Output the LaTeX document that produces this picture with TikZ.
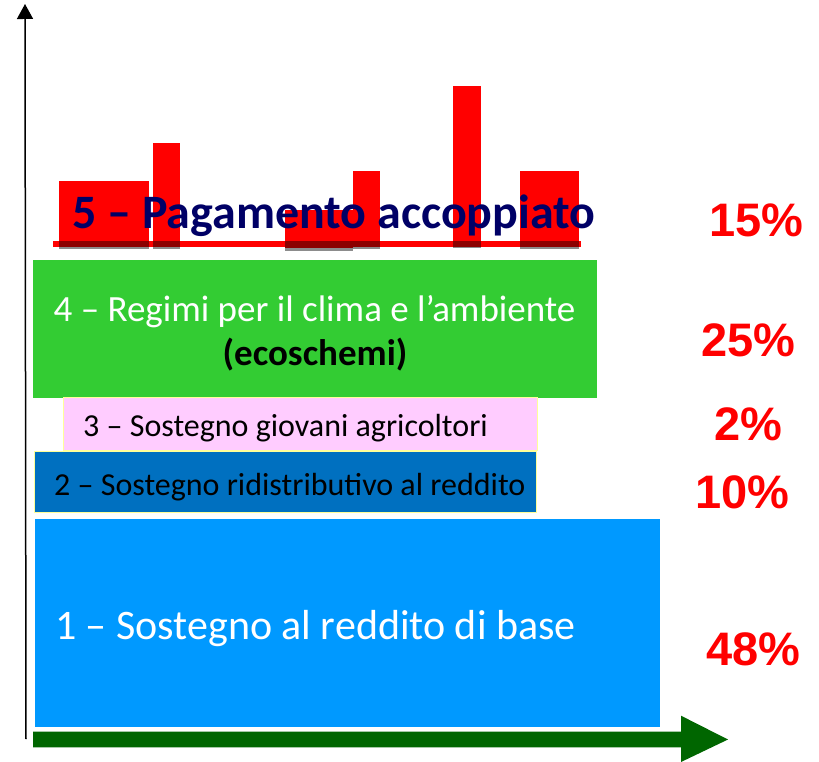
\documentclass[tikz,border=0pt]{standalone}
\usepackage{fontspec}
\setmainfont{Carlito}
\newfontfamily\pctfont{Liberation Sans}
\usetikzlibrary{arrows.meta}
\definecolor{boxone}{RGB}{0,153,255}
\definecolor{boxtwo}{RGB}{0,112,192}
\definecolor{boxthree}{RGB}{255,204,255}
\definecolor{boxfour}{RGB}{51,204,51}
\definecolor{edgeyellow}{RGB}{255,255,153}
\definecolor{navytitle}{RGB}{0,0,102}
\definecolor{arrowgreen}{RGB}{0,102,0}
\tikzset{
  panel/.style={draw=none, inner sep=0pt, outer sep=0pt, anchor=north west},
  redbar/.style={fill=red, draw=none},
  barshadow/.style={fill=black, opacity=0.45, draw=none},
  pct/.style={text=red, font=\pctfont\bfseries\fontsize{47}{50}\selectfont, anchor=base west, inner sep=0pt},
  lbl/.style={inner sep=0pt, anchor=base west},
}
\begin{document}
\begin{tikzpicture}[x=1pt,y=-1pt]
\useasboundingbox (0,0) rectangle (819,762);

% red bars of item 5
\foreach \xa/\xb/\yt/\yb in {59/149/181/245, 152.5/180/143/245, 285/353/210/248, 352.5/380/171/245, 452.5/481/86/245, 520/578.5/171/245}{
  \fill[redbar] (\xa,\yt) rectangle (\xb,\yb);
}
\fill[red] (52.5,241) rectangle (581,246.5);
\foreach \xa/\xb/\yb in {59/149/249, 152.5/180/249, 285/353/251, 352.5/380/249, 452.5/481/248, 520/578.5/249}{
  \fill[barshadow] (\xa,241) rectangle (\xb,\yb);
}
\node[lbl, text=navytitle, font=\bfseries\fontsize{48}{50}\selectfont] (t5) at (72,229) {5 – Pagamento accoppiato};

% panels
\node[panel, fill=boxfour, minimum width=564pt, minimum height=138pt] (b4) at (33,260) {};
\node[panel, fill=boxthree, draw=edgeyellow, line width=1pt, minimum width=474pt, minimum height=53pt] (b3) at (63.5,397.5) {};
\node[panel, fill=boxtwo, draw=edgeyellow, line width=1pt, minimum width=502pt, minimum height=61.5pt] (b2) at (34.5,451) {};
\node[panel, fill=boxone, minimum width=625pt, minimum height=208pt] (b1) at (35,519) {};

\node[lbl, anchor=base, text=white, font=\fontsize{37}{40}\selectfont] (t4a) at (314.5,321) {4 – Regimi per il clima e l’ambiente};
\node[lbl, anchor=base, text=black, font=\bfseries\fontsize{37}{40}\selectfont] (t4b) at (315,365) {(ecoschemi)};
\node[lbl, text=black, font=\fontsize{32}{36}\selectfont] (t3) at (83,436) {3 – Sostegno giovani agricoltori};
\node[lbl, text=black, font=\fontsize{32}{36}\selectfont] (t2) at (54,495) {2 – Sostegno ridistributivo al reddito};
\node[lbl, text=white, font=\fontsize{42}{46}\selectfont] (t1) at (55,639) {1 – Sostegno al reddito di base};

% percentages
\node[pct] (p5) at (709,236.5) {15\%};
\node[pct] (p4) at (701,356.5) {25\%};
\node[pct] (p3) at (714,440.5) {2\%};
\node[pct] (p2) at (695,508) {10\%};
\node[pct] (p1) at (706,665) {48\%};

% vertical axis
\coordinate (ybot) at (26,739);
\coordinate (ytop) at (25,4);
\draw[line width=1.5pt, -{Triangle[width=16pt,length=15pt]}] (ybot) -- (ytop);

% horizontal green arrow
\fill[arrowgreen] (33,731.7) -- (681,731.7) -- (681,715.7) -- (728,739.5) -- (681,762) -- (681,747.3) -- (33,747.3) -- cycle;
\end{tikzpicture}
\end{document}
